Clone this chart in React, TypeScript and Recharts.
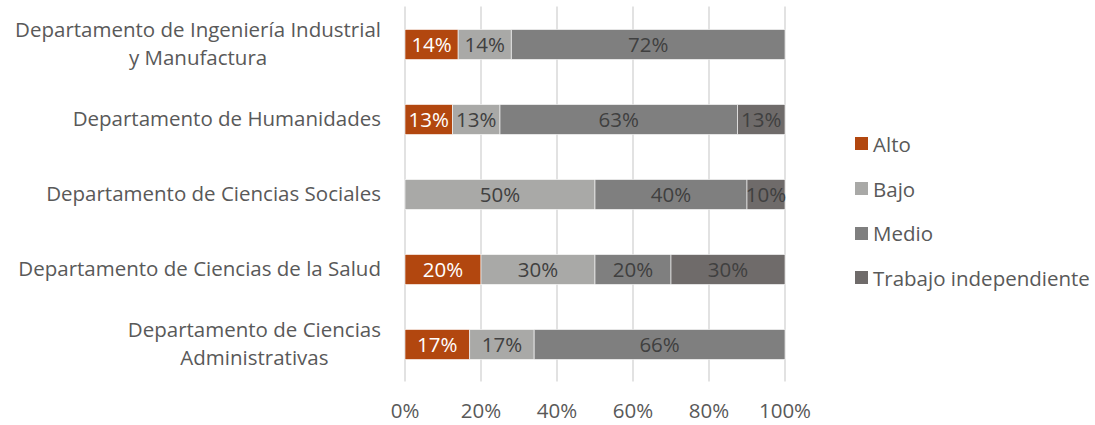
import React from 'react'
import { BarChart, Bar, XAxis, YAxis, CartesianGrid, LabelList } from 'recharts'

const departments = [
  'Departamento de Ingeniería Industrial\ny Manufactura',
  'Departamento de Humanidades',
  'Departamento de Ciencias Sociales',
  'Departamento de Ciencias de la Salud',
  'Departamento de Ciencias\nAdministrativas',
]
const alto = [14, 12.5, 0, 20, 17]
const bajo = [14, 12.5, 50, 30, 17]
const medio = [72, 62.5, 40, 20, 66]
const independiente = [0, 12.5, 10, 30, 0]
const xTicks = [0, 20, 40, 60, 80, 100]

const series = [
  { key: 'alto', name: 'Alto', color: '#B2470F', text: '#ffffff' },
  { key: 'bajo', name: 'Bajo', color: '#A9A9A7', text: '#404040' },
  { key: 'medio', name: 'Medio', color: '#7F7F7F', text: '#404040' },
  { key: 'independiente', name: 'Trabajo independiente', color: '#6F6B6A', text: '#404040' },
]

const data = departments.map((name, i) => ({
  name,
  alto: alto[i],
  bajo: bajo[i],
  medio: medio[i],
  independiente: independiente[i],
}))

const FONT = '"Open Sans", sans-serif'
const SIZE = 20.5
const GREY = '#595959'

let ctx: CanvasRenderingContext2D | null = null
function measure(s: string) {
  if (!ctx) ctx = document.createElement('canvas').getContext('2d')
  if (!ctx) return s.length * SIZE * 0.5
  ctx.font = `${SIZE}px ${FONT}`
  return ctx.measureText(s).width
}

const CategoryTick = (props: any) => {
  const { y, payload } = props
  const lines: string[] = String(payload.value).split('\n')
  const w = Math.max(...lines.map(measure))
  const cx = 381 - w / 2
  const lh = 28.5
  const y0 = y - ((lines.length - 1) * lh) / 2
  return (
    <text x={cx} y={y0} textAnchor="middle" fill={GREY} fontSize={SIZE} fontFamily={FONT}>
      {lines.map((l, i) => (
        <tspan key={i} x={cx} y={y0 + i * lh} dy="0.35em">
          {l}
        </tspan>
      ))}
    </text>
  )
}

const PctTick = (props: any) => {
  const { x, payload } = props
  return (
    <text x={x} y={411} textAnchor="middle" dy="0.35em" fill={GREY} fontSize={SIZE} fontFamily={FONT}>
      {payload.value}%
    </text>
  )
}

const makeLabel = (color: string) => (props: any) => {
  const { x, y, width, height, value } = props
  if (!value) return null
  return (
    <text
      x={x + width / 2}
      y={y + height / 2}
      dy="0.35em"
      textAnchor="middle"
      fill={color}
      fontSize={SIZE}
      fontFamily={FONT}
    >
      {Math.round(value)}%
    </text>
  )
}

export default function App() {
  return (
    <div style={{ position: 'absolute', left: 0, top: 0, width: 1095, height: 425, background: '#fff' }}>
      <BarChart
        width={1095}
        height={425}
        data={data}
        layout="vertical"
        margin={{ top: 6.5, right: 310, bottom: 0, left: 0 }}
        barSize={30}
      >
        <CartesianGrid horizontal={false} stroke="#D9D9D9" strokeWidth={1.5} />
        <XAxis
          type="number"
          domain={[0, 100]}
          ticks={xTicks}
          axisLine={false}
          tickLine={false}
          tick={<PctTick />}
          height={43.5}
        />
        <YAxis
          type="category"
          dataKey="name"
          axisLine={false}
          tickLine={false}
          width={405}
          tick={<CategoryTick />}
        />
        {series.map((s) => (
          <Bar
            key={s.key}
            dataKey={s.key}
            name={s.name}
            stackId="a"
            fill={s.color}
            stroke="#ffffff"
            strokeWidth={0.6}
            isAnimationActive={false}
          >
            <LabelList dataKey={s.key} content={makeLabel(s.text)} />
          </Bar>
        ))}
      </BarChart>
      <div style={{ position: 'absolute', left: 855, top: 121.5, fontFamily: FONT, fontSize: SIZE, color: GREY }}>
        {series.map((s) => (
          <div key={s.key} style={{ display: 'flex', alignItems: 'center', height: 44.7, whiteSpace: 'nowrap' }}>
            <span style={{ width: 13, height: 13, background: s.color, marginRight: 5, display: 'inline-block' }} />
            <span>{s.name}</span>
          </div>
        ))}
      </div>
    </div>
  )
}
